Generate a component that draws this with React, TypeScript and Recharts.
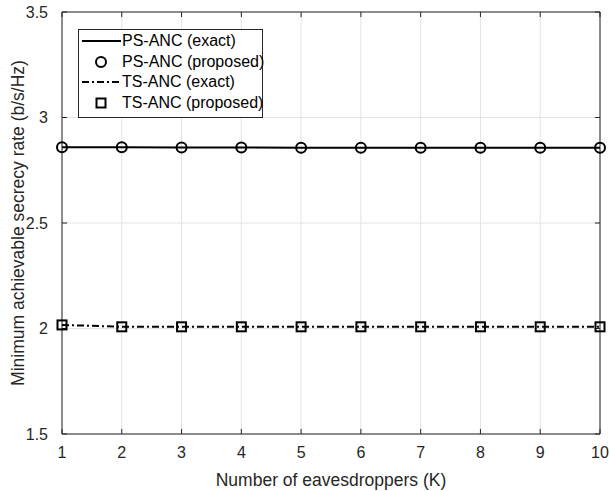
import React from 'react';
import { LineChart, Line, XAxis, YAxis, CartesianGrid, ReferenceLine, ReferenceArea } from 'recharts';

const eavesdroppers = [1, 2, 3, 4, 5, 6, 7, 8, 9, 10];
const psExact = [2.859, 2.859, 2.858, 2.858, 2.857, 2.857, 2.857, 2.857, 2.857, 2.857];
const psProposed = [2.859, 2.859, 2.858, 2.858, 2.857, 2.857, 2.857, 2.857, 2.857, 2.857];
const tsExact = [2.017, 2.008, 2.008, 2.008, 2.008, 2.008, 2.008, 2.008, 2.008, 2.008];
const tsProposed = [2.017, 2.008, 2.008, 2.008, 2.008, 2.008, 2.008, 2.008, 2.008, 2.008];
const yTicks = [1.5, 2, 2.5, 3, 3.5];

const data = eavesdroppers.map((k, i) => ({
  k,
  psExact: psExact[i],
  psProposed: psProposed[i],
  tsExact: tsExact[i],
  tsProposed: tsProposed[i],
}));

const FONT = '"Liberation Sans", Arial, sans-serif';
const AXIS = '#262626';
const DASHDOT = '7 3 2 3';

const CircleDot = (props: any) => {
  const { cx, cy } = props;
  if (cx == null || cy == null) return null;
  return <circle key={`c${cx}`} cx={cx} cy={cy} r={5} fill="none" stroke="#000" strokeWidth={2} />;
};

const SquareDot = (props: any) => {
  const { cx, cy } = props;
  if (cx == null || cy == null) return null;
  return <rect key={`s${cx}`} x={cx - 4.5} y={cy - 4.5} width={9} height={9} fill="none" stroke="#000" strokeWidth={2} />;
};

function LegendBox() {
  const rows = [
    { label: 'PS-ANC (exact)', kind: 'solid' },
    { label: 'PS-ANC (proposed)', kind: 'circle' },
    { label: 'TS-ANC (exact)', kind: 'dashdot' },
    { label: 'TS-ANC (proposed)', kind: 'square' },
  ];
  return (
    <div
      style={{
        position: 'absolute', left: 78, top: 29, width: 183, height: 86,
        border: '1px solid #262626', background: '#fff', paddingTop: 1, boxSizing: 'content-box',
      }}
    >
      {rows.map(r => (
        <div key={r.label} style={{ display: 'flex', alignItems: 'center', height: 20.5 }}>
          <svg width={43} height={14} style={{ flex: 'none' }}>
            {r.kind === 'solid' && <line x1={3} x2={42} y1={7} y2={7} stroke="#000" strokeWidth={2} />}
            {r.kind === 'dashdot' && <line x1={3} x2={42} y1={7} y2={7} stroke="#000" strokeWidth={2} strokeDasharray={DASHDOT} />}
            {r.kind === 'circle' && <circle cx={22} cy={7} r={5} fill="none" stroke="#000" strokeWidth={2} />}
            {r.kind === 'square' && <rect x={17.5} y={2.5} width={9} height={9} fill="none" stroke="#000" strokeWidth={2} />}
          </svg>
          <span style={{ fontFamily: FONT, fontSize: 16, color: '#000', whiteSpace: 'nowrap' }}>{r.label}</span>
        </div>
      ))}
    </div>
  );
}

export default function App() {
  return (
    <div style={{ position: 'absolute', left: 0, top: 0, width: 610, height: 491, background: '#fff' }}>
      <LineChart width={610} height={491} data={data} margin={{ top: 12, right: 10, left: 0, bottom: 0 }}>
        <CartesianGrid stroke="#e3e3e3" strokeWidth={1} />
        <XAxis
          dataKey="k"
          type="number"
          domain={[1, 10]}
          ticks={eavesdroppers}
          height={57}
          tick={{ fontFamily: FONT, fontSize: 16, fill: AXIS }}
          tickLine={false}
          axisLine={false}
          tickMargin={7}
          label={{ value: 'Number of eavesdroppers (K)', position: 'insideBottom', offset: 5, style: { fontFamily: FONT, fontSize: 17.5, fill: AXIS } }}
        />
        <YAxis
          type="number"
          domain={[1.5, 3.5]}
          ticks={yTicks}
          width={62}
          tick={{ fontFamily: FONT, fontSize: 16, fill: AXIS }}
          tickFormatter={(v: number) => String(v)}
          tickLine={false}
          axisLine={false}
          tickMargin={8}
          label={{ value: 'Minimum achievable secrecy rate (b/s/Hz)', angle: -90, position: 'insideLeft', offset: 18, style: { fontFamily: FONT, fontSize: 17.5, fill: AXIS, textAnchor: 'middle' } }}
        />
        <ReferenceArea x1={1} x2={10} y1={1.5} y2={3.5} fill="none" stroke={AXIS} strokeWidth={1} ifOverflow="visible" />
        {eavesdroppers.map(k => (
          <ReferenceLine key={`bt${k}`} segment={[{ x: k, y: 1.5 }, { x: k, y: 1.524 }]} stroke={AXIS} />
        ))}
        {eavesdroppers.map(k => (
          <ReferenceLine key={`tt${k}`} segment={[{ x: k, y: 3.5 }, { x: k, y: 3.476 }]} stroke={AXIS} />
        ))}
        {yTicks.map(v => (
          <ReferenceLine key={`lt${v}`} segment={[{ x: 1, y: v }, { x: 1.085, y: v }]} stroke={AXIS} />
        ))}
        {yTicks.map(v => (
          <ReferenceLine key={`rt${v}`} segment={[{ x: 10, y: v }, { x: 9.915, y: v }]} stroke={AXIS} />
        ))}
        <Line dataKey="psExact" stroke="#000" strokeWidth={2} dot={false} isAnimationActive={false} />
        <Line dataKey="psProposed" stroke="none" dot={CircleDot} isAnimationActive={false} />
        <Line dataKey="tsExact" stroke="#000" strokeWidth={2} strokeDasharray={DASHDOT} dot={false} isAnimationActive={false} />
        <Line dataKey="tsProposed" stroke="none" dot={SquareDot} isAnimationActive={false} />
      </LineChart>
      <LegendBox />
    </div>
  );
}
